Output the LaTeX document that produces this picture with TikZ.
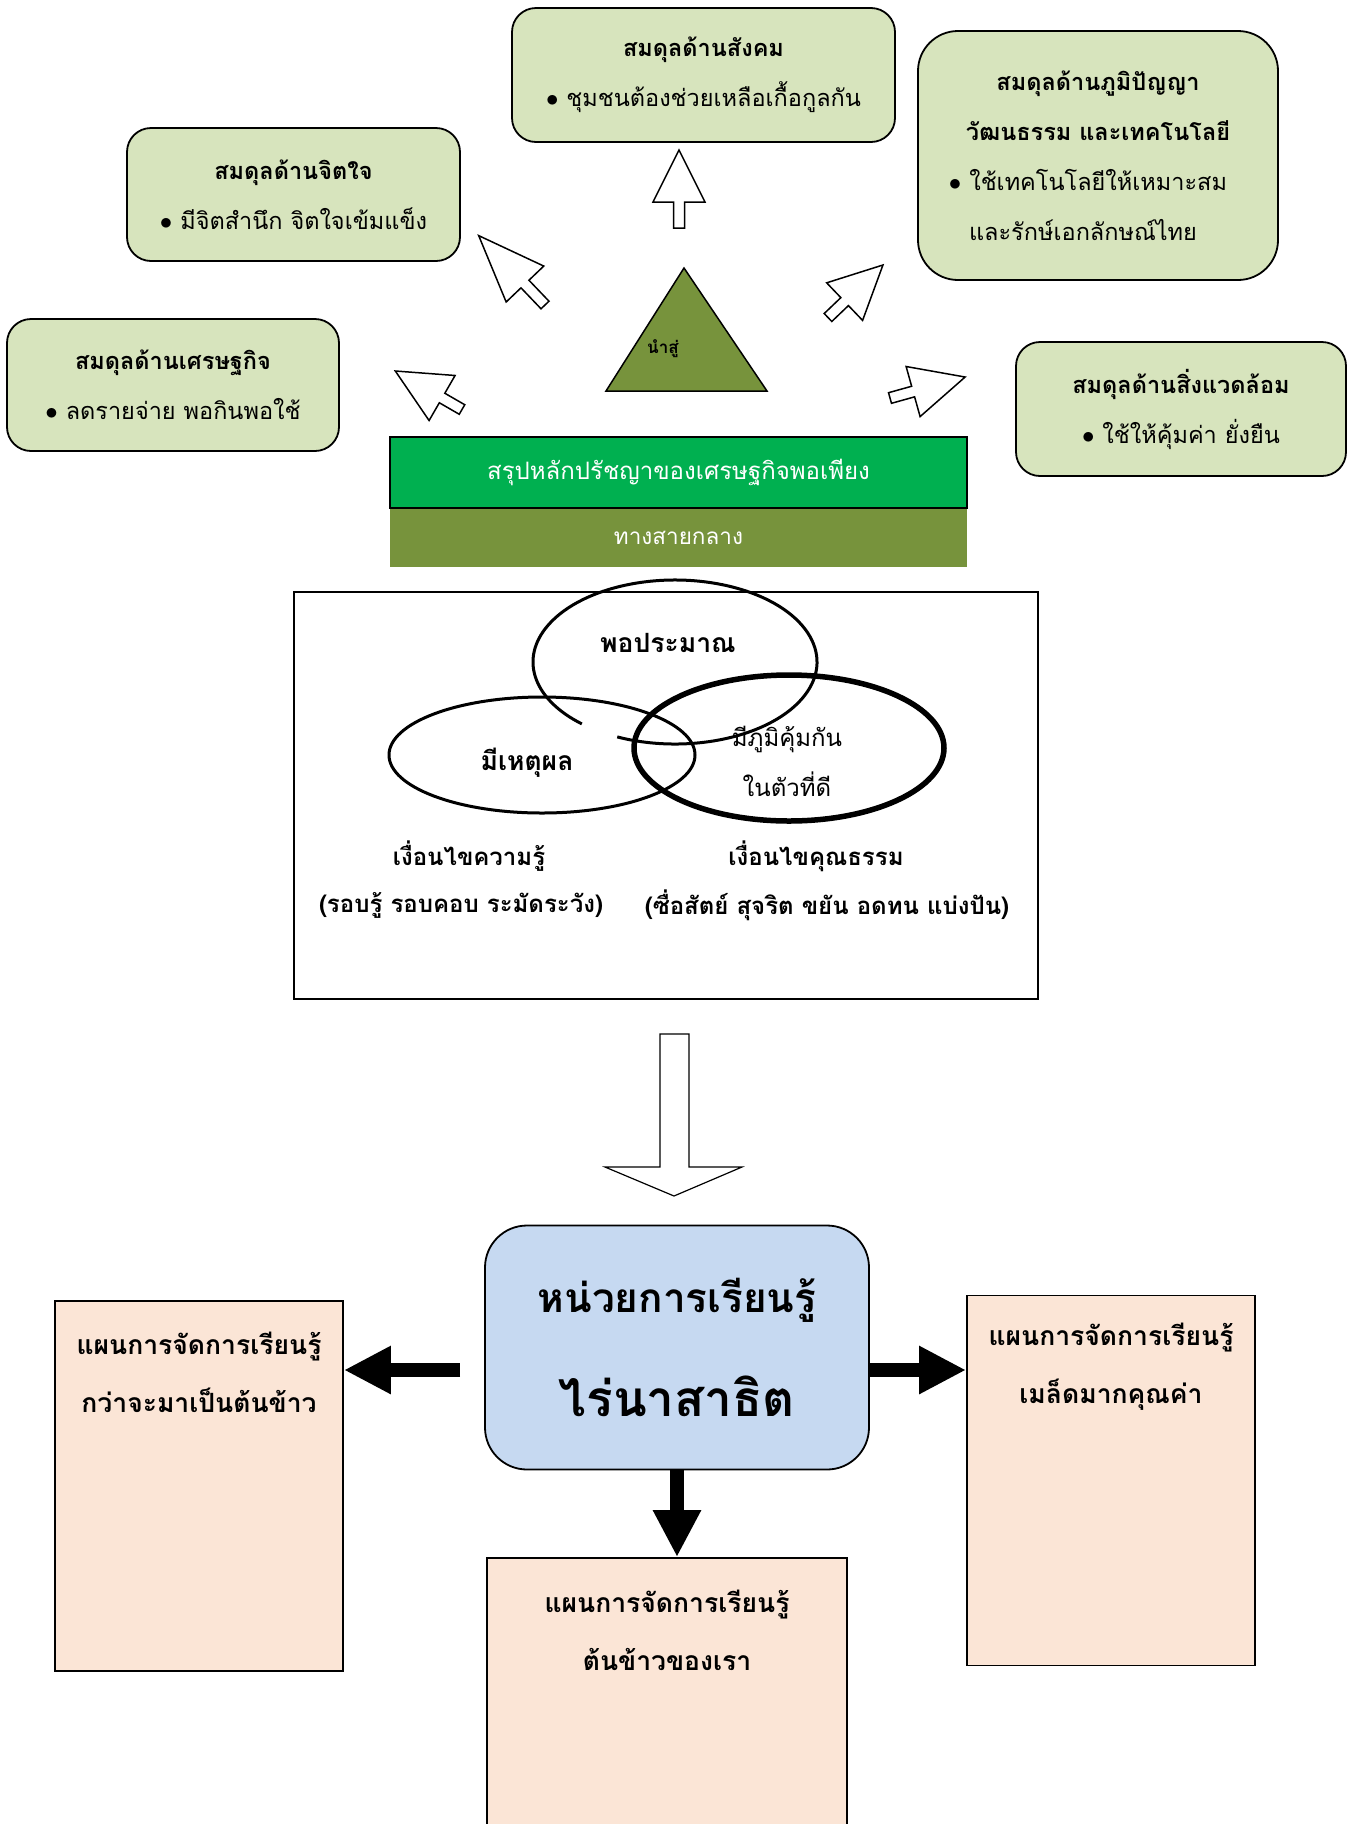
\documentclass[tikz,border=0pt]{standalone}
\usepackage{fontspec}
\setmainfont[Script=Thai]{Loma}
\usetikzlibrary{arrows.meta, positioning}
\definecolor{boxgreen}{HTML}{D7E4BD}
\definecolor{bargreen}{HTML}{00B050}
\definecolor{barolive}{HTML}{77933C}
\definecolor{unitblue}{HTML}{C6D9F1}
\definecolor{peach}{HTML}{FBE5D6}

\begin{document}
\begin{tikzpicture}[x=1pt, y=-1pt,
 gbox/.style = {draw, line width=1.8pt, fill=boxgreen, rounded corners=24pt,
      align=center, inner sep=0pt, font=\fontsize{23.5}{50}\selectfont},
 plan/.style = {draw, line width=1.8pt, fill=peach, minimum width=288pt},
 plantxt/.style = {align=center, font=\fontsize{26.5}{58}\selectfont\bfseries},
 vtxt/.style = {font=\fontsize{24}{28}\selectfont\bfseries},
  blk/.style = {line width=14pt, -{Triangle[length=47pt, width=45pt]}},
 pics/ptr/.style args = {#1/#2}{code={%
      \draw[line width=1.5pt, fill=white]
        (0,-5.5) -- (#1-#2,-5.5) -- (#1-#2,-26) -- (#1,0)
        -- (#1-#2,26) -- (#1-#2,5.5) -- (0,5.5) -- cycle;}}
                    ]
\fill[white] (0,0) rectangle (1352,1824);
\useasboundingbox (0,0) rectangle (1352,1824);
% balance boxes
\node(soc) [gbox, minimum width=383pt, minimum height=134pt] at (703.5,75)
   {\textbf{สมดุลด้านสังคม}\\ $\bullet$ ชุมชนต้องช่วยเหลือเกื้อกูลกัน};
\node(wis) [gbox, rounded corners=40pt, minimum width=360pt, minimum height=249pt] at (1098,155.5)
   {\textbf{สมดุลด้านภูมิปัญญา}\\ \textbf{วัฒนธรรม และเทคโนโลยี}\\
    $\bullet$ ใช้เทคโนโลยีให้เหมาะสม\rule{20pt}{0pt}\\ และรักษ์เอกลักษณ์ไทย\rule{30pt}{0pt}};
\node(mind) [gbox, minimum width=333pt, minimum height=133pt] at (293.5,194.5)
   {\textbf{สมดุลด้านจิตใจ}\\ $\bullet$ มีจิตสำนึก จิตใจเข้มแข็ง};
\node(eco) [gbox, minimum width=332pt, minimum height=132pt] at (173,385)
   {\textbf{สมดุลด้านเศรษฐกิจ}\\ $\bullet$ ลดรายจ่าย พอกินพอใช้};
\node(env) [gbox, minimum width=330pt, minimum height=134pt] at (1181,409)
   {\textbf{สมดุลด้านสิ่งแวดล้อม}\\ $\bullet$ ใช้ให้คุ้มค่า ยั่งยืน};
% pointers
\pic[rotate=90]    at (679,228)   {ptr=78/52};
\pic[rotate=133.7] at (545,305)   {ptr=96/67};
\pic[rotate=150]   at (462,409.5) {ptr=77/54};
\pic[rotate=43.7]  at (828,317.5) {ptr=76/53};
\pic[rotate=15.6]  at (890,398)   {ptr=78/54};
% triangle and bars
\draw[fill=barolive, line width=1.5pt] (606,391) -- (684,268) -- (767,391) -- cycle;
\node(lead) [font=\fontsize{17}{19}\selectfont\bfseries] at (663,349) {นำสู่};
\node(mid) [fill=barolive, minimum width=577pt, minimum height=59pt, text=white,
   font=\fontsize{22.5}{26}\selectfont] at (678.5,537.5) {ทางสายกลาง};
\node(sum) [draw, line width=1.5pt, fill=bargreen, minimum width=577pt, minimum height=71pt,
   text=white, font=\fontsize{24}{28}\selectfont] at (678.5,472.5) {สรุปหลักปรัชญาของเศรษฐกิจพอเพียง};
% three circles
\node(venn) [draw, line width=1.5pt, minimum width=744pt, minimum height=407pt] at (666,795.5) {};
\draw[line width=3pt] ([shift={(246:142pt and 82pt)}]675,662)
   arc [start angle=246, end angle=589, x radius=142pt, y radius=82pt];
\draw[line width=3pt] (542,755) ellipse [x radius=153pt, y radius=58pt];
\draw[line width=5.5pt] (789,748) ellipse [x radius=155pt, y radius=73pt];
\node(t1) [vtxt, font=\fontsize{26.5}{30}\selectfont\bfseries] at (668,643) {พอประมาณ};
\node(t2) [vtxt, font=\fontsize{26.5}{30}\selectfont\bfseries] at (527,763) {มีเหตุผล};
\node(t3) [align=center, font=\fontsize{24}{50}\selectfont] at (787,761) {มีภูมิคุ้มกัน\\ ในตัวที่ดี};
\node(k1) [vtxt] at (469,856) {เงื่อนไขความรู้};
\node(k2) [vtxt] at (816,856) {เงื่อนไขคุณธรรม};
\node(k3) [vtxt] at (461,905) {(รอบรู้ รอบคอบ ระมัดระวัง)};
\node(k4) [vtxt] at (827,905) {(ซื่อสัตย์ สุจริต ขยัน อดทน แบ่งปัน)};
% big arrow
\draw[line width=1.2pt, fill=white] (660,1034) -- (689,1034) -- (689,1167) -- (742,1167)
   -- (674,1196) -- (605,1167) -- (660,1167) -- cycle;
% learning unit
\node(ctr) [draw, line width=1.8pt, fill=unitblue, rounded corners=42pt, minimum width=384pt,
   minimum height=244pt, align=center, font=\fontsize{40.5}{104}\selectfont\bfseries] at (677,1347.5)
   {หน่วยการเรียนรู้\\ {\fontsize{49.5}{104}\selectfont ไร่นาสาธิต}};
\node(planL) [plan, minimum height=370pt] at (199,1486) {};
\node(planR) [plan, minimum height=370pt] at (1111,1480.5) {};
\node(planB) [plan, minimum width=360pt, minimum height=290pt] at (667,1703) {};
\node(planLt) [plantxt] at ([yshift=-72pt]planL.north) {แผนการจัดการเรียนรู้\\ กว่าจะมาเป็นต้นข้าว};
\node(planRt) [plantxt] at ([yshift=-72pt]planR.north) {แผนการจัดการเรียนรู้\\ เมล็ดมากคุณค่า};
\node(planBt) [plantxt] at ([yshift=-73pt]planB.north) {แผนการจัดการเรียนรู้\\ ต้นข้าวของเรา};
%
\coordinate (la) at ([yshift=-22.5pt]ctr.west);
\coordinate (ra) at ([yshift=-22.5pt]ctr.east);
\draw[blk, shorten <=24pt] (la) -- (la -| planL.east);
\draw[blk] (ra) -- (ra -| planR.west);
\draw[blk] (ctr.south) -- (ctr.south |- planB.north);
\end{tikzpicture}
\end{document}
